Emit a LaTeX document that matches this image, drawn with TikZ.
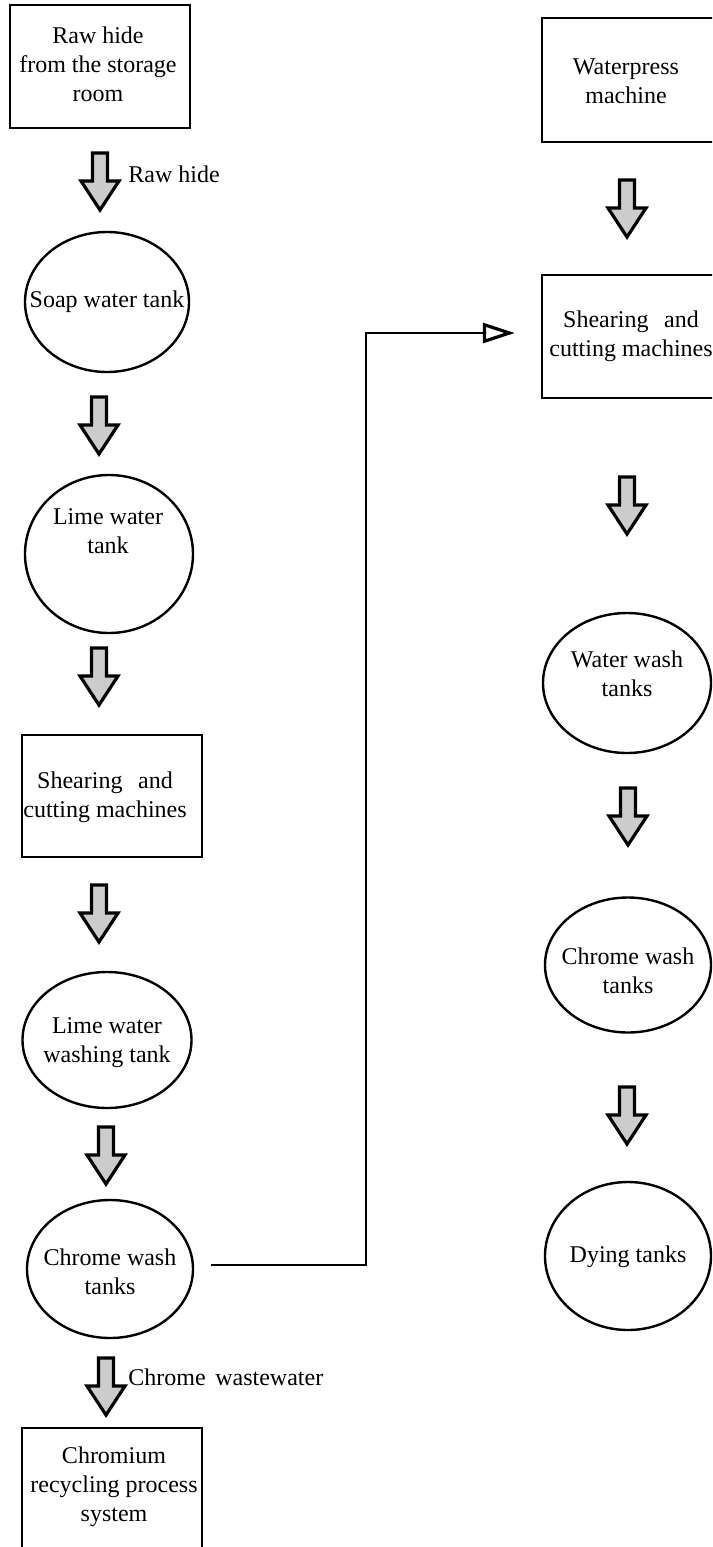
\documentclass[tikz,border=0pt]{standalone}
\usepackage{fontspec}
\setmainfont{Liberation Serif}
\usetikzlibrary{arrows.meta,shapes.geometric,calc}
\begin{document}
\begin{tikzpicture}[x=0.5pt,y=-0.5pt,
  txt/.style={font=\fontsize{12}{14.5}\selectfont, align=center, inner sep=0pt},
  box/.style={draw, line width=1.2pt, rectangle, inner sep=0pt,
              minimum width=90pt, minimum height=61.5pt},
  tank/.style={draw, line width=1.2pt, ellipse, inner sep=0pt},
  link/.style={line width=1.2pt},
  pics/flow/.style={code={
    \draw[line width=1.6pt, fill=gray!40, line join=miter]
      (-7.5,0) -- (7.5,0) -- (7.5,28) -- (19,28) -- (0,57)
      -- (-19,28) -- (-7.5,28) -- cycle;}}
]
\useasboundingbox (0,0) rectangle (712,1547);
\clip (0,0) rectangle (712,1547);

% ---- left column ----
\node[box] (raw) at (100,66.5) {};
\node[txt] (rawT) at (98,64) {Raw hide\\from the storage\\room};

\node[tank, minimum width=82pt, minimum height=70pt] (soap) at (107,302) {};
\node[txt] (soapT) at (107,302) {Soap water tank};

\node[tank, minimum width=84pt, minimum height=79pt] (lime) at (109,554) {};
\node[txt] (limeT) at (108,531) {Lime water\\tank};

\node[box, minimum height=61pt] (shearL) at (112,796) {};
\node[txt] (shearLT) at (105,797) {Shearing\hspace{0.65em}and\\cutting machines};

\node[tank, minimum width=84.5pt, minimum height=68pt] (limewash) at (107,1040) {};
\node[txt] (limewashT) at (107,1043) {Lime water\\washing tank};

\node[tank, minimum width=83pt, minimum height=69pt] (chromeL) at (110,1269) {};
\node[txt] (chromeLT) at (110,1272) {Chrome wash\\tanks};

\node[box, minimum height=61pt] (recyc) at (112,1489) {};
\node[txt] (recycT) at (114,1487) {Chromium\\recycling process\\system};

% ---- right column ----
\node[box, minimum height=62pt] (press) at (632,80) {};
\node[txt] (pressT) at (626,81) {Waterpress\\machine};

\node[box] (shearR) at (632,336.5) {};
\node[txt] (shearRT) at (631,336) {Shearing\hspace{0.65em}and\\cutting machines};

\node[tank, minimum width=84pt, minimum height=70pt] (water) at (627,683) {};
\node[txt] (waterT) at (627,674) {Water wash\\tanks};

\node[tank, minimum width=83pt, minimum height=67.5pt] (chromeR) at (628,965) {};
\node[txt] (chromeRT) at (628,971) {Chrome wash\\tanks};

\node[tank, minimum width=83pt, minimum height=74pt] (dye) at (628,1256) {};
\node[txt] (dyeT) at (628,1257) {Dying tanks};

% ---- block arrows between stages ----
\pic at (100,153) {flow};
\pic at (99,397) {flow};
\pic at (99,648) {flow};
\pic at (99,885) {flow};
\pic at (106,1127) {flow};
\pic at (106,1358) {flow};

\pic at (627,180) {flow};
\pic at (627,477) {flow};
\pic at (628,788) {flow};
\pic at (627,1087) {flow};

% ---- stream labels ----
\node[txt, anchor=west] (lblRaw) at (128,174) {Raw hide};
\node[txt, anchor=west] (lblWaste) at (128,1377) {Chrome\hspace{0.4em}wastewater};

% ---- transfer line to the second shearing stage ----
\coordinate (turn) at (366,333);
\draw[link, -{Triangle[fill=white, length=16pt, width=10pt, line width=1.6pt]}, shorten >=13pt]
  ($(chromeL.east)+(17,-4)$) -| (turn) -- ($(shearR.west)+(0,-3.5)$);
\end{tikzpicture}
\end{document}
